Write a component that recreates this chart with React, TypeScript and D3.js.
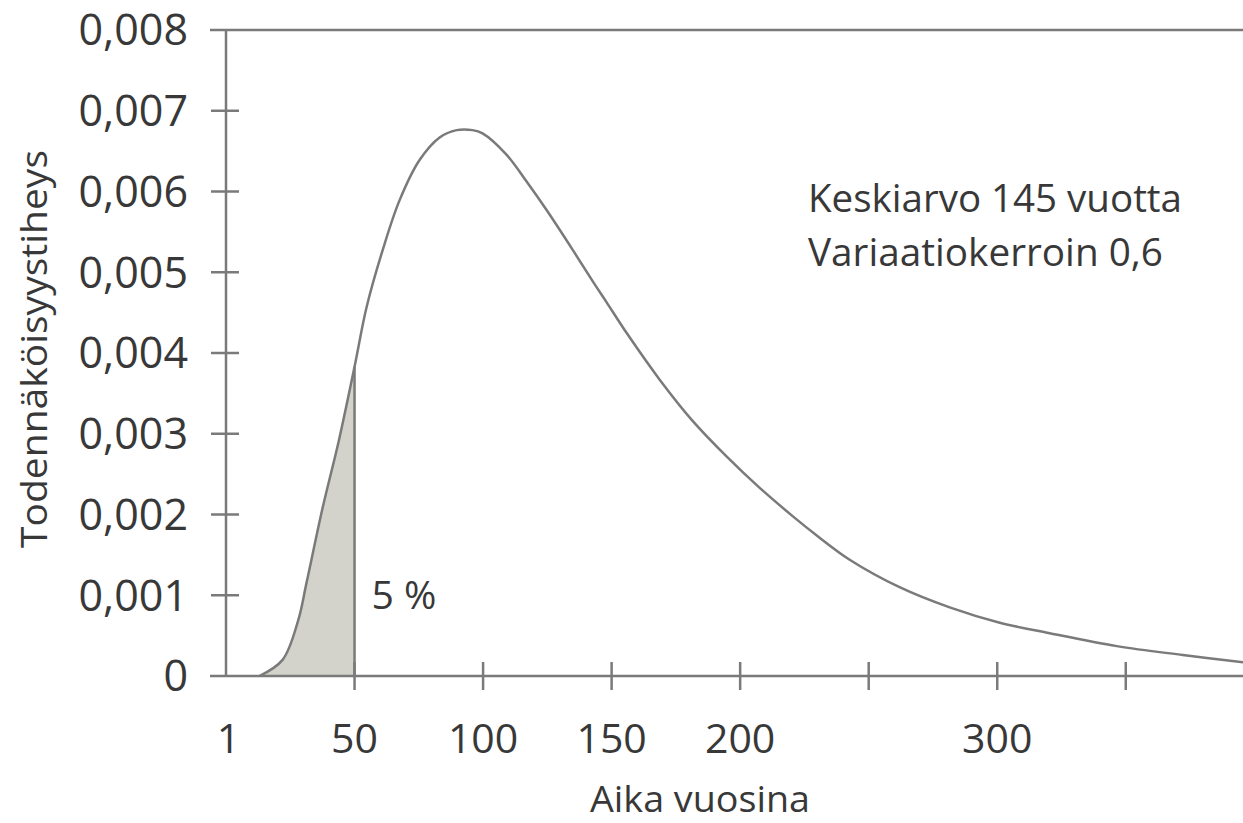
import React, { useEffect, useRef } from "react";
import * as d3 from "d3";

// curve: age in years -> probability density
const years = [13, 22, 28, 31.3, 37.5, 44, 50, 54.7, 61, 67.5, 75.3, 83.1, 89.7, 95.9, 99.8, 109, 117, 124.7, 134.8, 142.8, 148, 155.8, 168.7, 181.5, 194.7, 207.6, 220.4, 229.8, 242.6, 262, 281.5, 301, 320.4, 346.5, 372.2, 395.6];
const density = [0, 0.0002, 0.00068, 0.00115, 0.00207, 0.00293, 0.00383, 0.00457, 0.00528, 0.00589, 0.00639, 0.00667, 0.00676, 0.00676, 0.00672, 0.00646, 0.00612, 0.00577, 0.00528, 0.00488, 0.00463, 0.00425, 0.00367, 0.00316, 0.00272, 0.00233, 0.00198, 0.00174, 0.00144, 0.0011, 0.00085, 0.00066, 0.00053, 0.00037, 0.00026, 0.00017];

const xTicks = [50, 100, 150, 200, 250, 300, 350];
const xTickLabels = [
  { value: 1, label: "1" },
  { value: 50, label: "50" },
  { value: 100, label: "100" },
  { value: 150, label: "150" },
  { value: 200, label: "200" },
  { value: 300, label: "300" },
];
const yTicks = [0, 0.001, 0.002, 0.003, 0.004, 0.005, 0.006, 0.007, 0.008];
const yTickLabels = ["0", "0,001", "0,002", "0,003", "0,004", "0,005", "0,006", "0,007", "0,008"];

const cutoff = 50;
const cutoffLabel = "5 %";
const notes = ["Keskiarvo 145 vuotta", "Variaatiokerroin 0,6"];
const xTitle = "Aika vuosina";
const yTitle = "Todennäköisyystiheys";

const App: React.FC = () => {
  const ref = useRef<SVGSVGElement>(null);

  useEffect(() => {
    if (!ref.current) return;
    const width = 1243;
    const height = 823;
    const ink = "#383838";
    const lineCol = "#7a7a7a";
    const font = "'Open Sans', sans-serif";

    const svg = d3.select(ref.current);
    svg.selectAll("*").remove();

    const x = d3.scaleLinear().domain([0, 395.6]).range([226, width]);
    const y = d3.scaleLinear().domain([0, 0.008]).range([676, 30]);

    const data = years.map((d, i) => ({ x: d, y: density[i] }));
    const shaded = data.filter((d) => d.x <= cutoff);

    // shaded 5 % tail
    const area = d3
      .area<{ x: number; y: number }>()
      .x((d) => x(d.x))
      .y0(y(0))
      .y1((d) => y(d.y))
      .curve(d3.curveCatmullRom.alpha(0.5));
    svg.append("path").datum(shaded).attr("fill", "#d3d3cb").attr("d", area);

    // frame: top line, x axis, y axis
    svg.append("line").attr("x1", 210).attr("x2", width).attr("y1", y(0.008)).attr("y2", y(0.008))
      .attr("stroke", lineCol).attr("stroke-width", 2.5);
    svg.append("line").attr("x1", 210).attr("x2", width).attr("y1", y(0)).attr("y2", y(0))
      .attr("stroke", lineCol).attr("stroke-width", 2.5);
    svg.append("line").attr("x1", x(0)).attr("x2", x(0)).attr("y1", y(0.008)).attr("y2", y(0))
      .attr("stroke", lineCol).attr("stroke-width", 2.5);

    // y ticks + labels
    yTicks.forEach((t, i) => {
      if (i > 0 && i < yTicks.length - 1) {
        svg.append("line").attr("x1", x(0) - 15).attr("x2", x(0) + 13).attr("y1", y(t)).attr("y2", y(t))
          .attr("stroke", lineCol).attr("stroke-width", 2.5);
      }
      svg.append("text")
        .attr("x", 188)
        .attr("y", y(t))
        .attr("dy", "0.36em")
        .attr("text-anchor", "end")
        .attr("font-family", font)
        .attr("font-size", 43)
        .attr("fill", ink)
        .text(yTickLabels[i]);
    });

    // x ticks + labels
    xTicks.forEach((t) => {
      svg.append("line").attr("x1", x(t)).attr("x2", x(t)).attr("y1", y(0) - 14).attr("y2", y(0) + 14)
        .attr("stroke", lineCol).attr("stroke-width", 2.5);
    });
    xTickLabels.forEach((t) => {
      svg.append("text")
        .attr("x", x(t.value))
        .attr("y", 738)
        .attr("dy", "0.36em")
        .attr("text-anchor", "middle")
        .attr("font-family", font)
        .attr("font-size", 41)
        .attr("fill", ink)
        .text(t.label);
    });

    // cutoff line at 50 years
    const cutIdx = years.indexOf(cutoff);
    svg.append("line")
      .attr("x1", x(cutoff)).attr("x2", x(cutoff))
      .attr("y1", y(0)).attr("y2", y(density[cutIdx]))
      .attr("stroke", lineCol).attr("stroke-width", 2.5);

    // density curve
    const line = d3
      .line<{ x: number; y: number }>()
      .x((d) => x(d.x))
      .y((d) => y(d.y))
      .curve(d3.curveCatmullRom.alpha(0.5));
    svg.append("path").datum(data).attr("fill", "none").attr("stroke", lineCol)
      .attr("stroke-width", 2.5).attr("d", line);

    // annotations
    svg.append("text").attr("x", x(cutoff) + 17).attr("y", y(0.001)).attr("dy", "0.36em")
      .attr("font-family", font).attr("font-size", 38).attr("fill", ink)
      .attr("textLength", 65).attr("lengthAdjust", "spacingAndGlyphs")
      .text(cutoffLabel);

    notes.forEach((n, i) => {
      svg.append("text").attr("x", 808).attr("y", 198 + i * 54).attr("dy", "0.36em")
        .attr("font-family", font).attr("font-size", 38).attr("fill", ink)
        .attr("textLength", i === 0 ? 374 : 355).attr("lengthAdjust", "spacingAndGlyphs")
        .text(n);
    });

    svg.append("text").attr("x", 700).attr("y", 799).attr("dy", "0.36em")
      .attr("text-anchor", "middle")
      .attr("font-family", font).attr("font-size", 36).attr("fill", ink)
      .attr("textLength", 220).attr("lengthAdjust", "spacingAndGlyphs")
      .text(xTitle);

    svg.append("text")
      .attr("transform", `translate(34, 349) rotate(-90)`)
      .attr("dy", "0.36em")
      .attr("text-anchor", "middle")
      .attr("font-family", font).attr("font-size", 36).attr("fill", ink)
      .attr("textLength", 398).attr("lengthAdjust", "spacingAndGlyphs")
      .text(yTitle);
  }, []);

  return (
    <svg
      ref={ref}
      width={1243}
      height={823}
      style={{ position: "absolute", left: 0, top: 0, background: "#fff" }}
    />
  );
};

export default App;
